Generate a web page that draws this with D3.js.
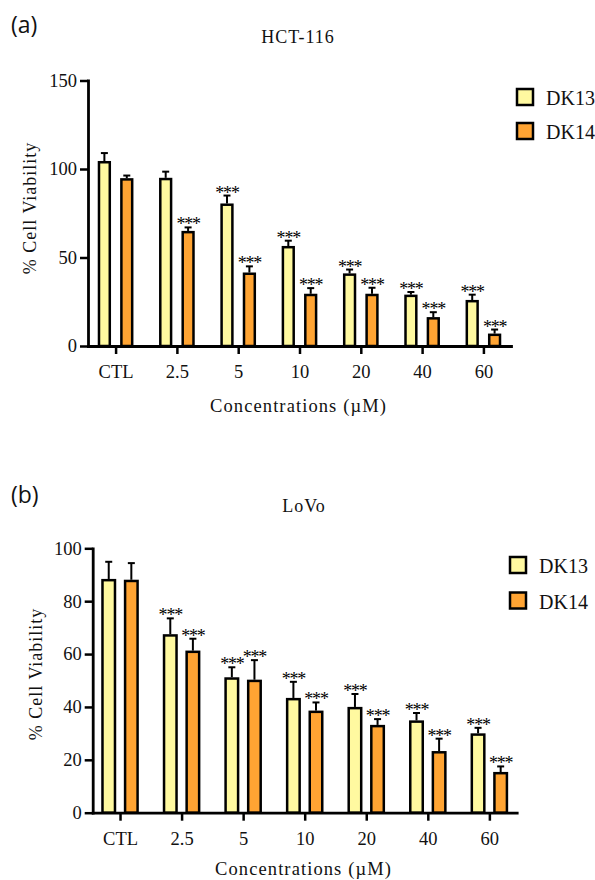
<!DOCTYPE html>
<html>
<head>
<meta charset="utf-8">
<script src="https://cdn.jsdelivr.net/npm/d3@7/dist/d3.min.js"></script>
<style>
  html, body { margin: 0; padding: 0; background: #fff; }
  svg { display: block; }
  svg text { font-family: "Liberation Serif", serif; fill: #111; }
  svg text.sans { font-family: "Open Sans", sans-serif; }
</style>
</head>
<body>
<svg id="chart" width="595" height="880"></svg>
<script>
// ---------------- DATA ----------------
const categories = ["CTL", "2.5", "5", "10", "20", "40", "60"];
const series = ["DK13", "DK14"];

// (a) HCT-116
const hctDK13 = [104.5, 95, 80.5, 56.5, 41, 29, 26];
const hctDK13Err = [4.5, 3.5, 4.5, 3, 2.2, 1.5, 3];
const hctDK14 = [94.8, 65, 41.5, 29.5, 29.5, 16.3, 7];
const hctDK14Err = [1.5, 2, 3.5, 3.2, 3.4, 2.8, 2.3];
const hctDK13Sig = ["", "", "***", "***", "***", "***", "***"];
const hctDK14Sig = ["", "***", "***", "***", "***", "***", "***"];
const hctTicks = [0, 50, 100, 150];

// (b) LoVo
const lovoDK13 = [88.4, 67.5, 51.2, 43.4, 40, 34.9, 30];
const lovoDK13Err = [6.5, 6, 3.8, 6.1, 4.9, 2.8, 2.1];
const lovoDK14 = [88.1, 61.3, 50.3, 38.6, 33.2, 23.3, 15.4];
const lovoDK14Err = [6.3, 4.5, 7.4, 3.1, 2.2, 4.7, 2.1];
const lovoDK13Sig = ["", "***", "***", "***", "***", "***", "***"];
const lovoDK14Sig = ["", "***", "***", "***", "***", "***", "***"];
const lovoTicks = [0, 20, 40, 60, 80, 100];

const colors = { DK13: "#FFF9A0", DK14: "#FFA433" };

const svg = d3.select("#chart");

function drawPanel(cfg) {
  const g = svg.append("g");
  const x0 = d3.scalePoint().domain(categories).range([cfg.left, cfg.right]).padding(cfg.pad);
  const x1 = d3.scaleBand().domain(series).range([-cfg.half, cfg.half]).paddingInner(cfg.inner);
  const y = d3.scaleLinear().domain([0, cfg.ymax]).range([cfg.bottom, cfg.top]);

  const rows = [];
  categories.forEach((c, i) => {
    rows.push({ c, s: "DK13", v: cfg.v13[i], e: cfg.e13[i], sig: cfg.s13[i] });
    rows.push({ c, s: "DK14", v: cfg.v14[i], e: cfg.e14[i], sig: cfg.s14[i] });
  });

  // error bars
  const eg = g.append("g").attr("stroke", "#000").attr("stroke-width", 2);
  rows.forEach(d => {
    const cx = x0(d.c) + x1(d.s) + x1.bandwidth() / 2;
    eg.append("line").attr("x1", cx).attr("x2", cx).attr("y1", y(d.v)).attr("y2", y(d.v + d.e));
    eg.append("line").attr("x1", cx - 3.5).attr("x2", cx + 3.5).attr("y1", y(d.v + d.e)).attr("y2", y(d.v + d.e));
  });

  // bars
  g.append("g").selectAll("rect").data(rows).join("rect")
    .attr("x", d => x0(d.c) + x1(d.s))
    .attr("y", d => y(d.v) + 1.2)
    .attr("width", x1.bandwidth())
    .attr("height", d => y(0) - y(d.v) - 1.2)
    .attr("fill", d => colors[d.s])
    .attr("stroke", "#000")
    .attr("stroke-width", 2.5);

  // significance stars
  g.append("g").selectAll("text").data(rows.filter(d => d.sig)).join("text")
    .attr("x", d => x0(d.c) + x1(d.s) + x1.bandwidth() / 2)
    .attr("y", d => y(d.v + d.e) + 3)
    .attr("text-anchor", "middle")
    .style("font-size", "18px")
    .style("letter-spacing", "-1.2px")
    .style("fill", "#000")
    .text(d => d.sig);

  // axes
  const yAxis = g.append("g").attr("transform", `translate(${cfg.left},0)`)
    .call(d3.axisLeft(y).tickValues(cfg.ticks).tickSize(8).tickSizeOuter(0).tickPadding(3));
  const xAxis = g.append("g").attr("transform", `translate(0,${cfg.bottom})`)
    .call(d3.axisBottom(x0).tickSize(8).tickSizeOuter(0).tickPadding(10));
  [yAxis, xAxis].forEach(a => {
    a.attr("font-family", null);
    a.select(".domain").attr("stroke-width", 2.8).attr("stroke-linecap", "square");
    a.selectAll(".tick line").attr("stroke-width", 2.5);
    a.selectAll("text").attr("fill", null).style("font-size", "18.5px");
  });
  xAxis.selectAll("text").attr("dy", "0.75em");

  // panel label
  g.append("text").attr("class", "sans").attr("x", 11).attr("y", cfg.labelY)
    .style("font-size", "23px").text(cfg.label);
  // title
  g.append("text").attr("x", cfg.titleX).attr("y", cfg.titleY).attr("text-anchor", "middle")
    .style("font-size", "18px").style("letter-spacing", cfg.titleLS + "px").text(cfg.title);
  // y title
  g.append("text")
    .attr("transform", `translate(${cfg.yTitleX},${cfg.yTitleY}) rotate(-90)`)
    .attr("text-anchor", "middle").style("font-size", "18px")
    .style("letter-spacing", "1px").text("% Cell Viability");
  // x title
  g.append("text").attr("x", cfg.xTitleX).attr("y", cfg.xTitleY).attr("text-anchor", "middle")
    .style("font-size", "18.5px").style("letter-spacing", "1.1px")
    .text("Concentrations (\u00b5M)");

  // legend
  series.forEach((s, i) => {
    const ly = cfg.legY + i * cfg.legStep;
    g.append("rect").attr("x", cfg.legX).attr("y", ly).attr("width", 16).attr("height", 16)
      .attr("fill", colors[s]).attr("stroke", "#000").attr("stroke-width", 2.5);
    g.append("text").attr("x", cfg.legX + 29).attr("y", ly + 16)
      .style("font-size", "20px").text(s);
  });
}

drawPanel({
  left: 88, right: 511, pad: 0.45, half: 16.6, inner: 0.518,
  top: 80.5, bottom: 346, ymax: 150, ticks: hctTicks,
  v13: hctDK13, e13: hctDK13Err, v14: hctDK14, e14: hctDK14Err, s13: hctDK13Sig, s14: hctDK14Sig,
  label: "(a)", labelY: 33, title: "HCT-116", titleX: 298, titleY: 43, titleLS: 1,
  yTitleX: 36, yTitleY: 208, xTitleX: 298.5, xTitleY: 412,
  legX: 517, legY: 89, legStep: 34
});

drawPanel({
  left: 92.7, right: 516.7, pad: 0.444, half: 17.55, inner: 0.447,
  top: 548.3, bottom: 812.7, ymax: 100, ticks: lovoTicks,
  v13: lovoDK13, e13: lovoDK13Err, v14: lovoDK14, e14: lovoDK14Err, s13: lovoDK13Sig, s14: lovoDK14Sig,
  label: "(b)", labelY: 503, title: "LoVo", titleX: 304, titleY: 512, titleLS: 1,
  yTitleX: 42, yTitleY: 674, xTitleX: 303.5, xTitleY: 875,
  legX: 510, legY: 557, legStep: 35.5
});
</script>
</body>
</html>
